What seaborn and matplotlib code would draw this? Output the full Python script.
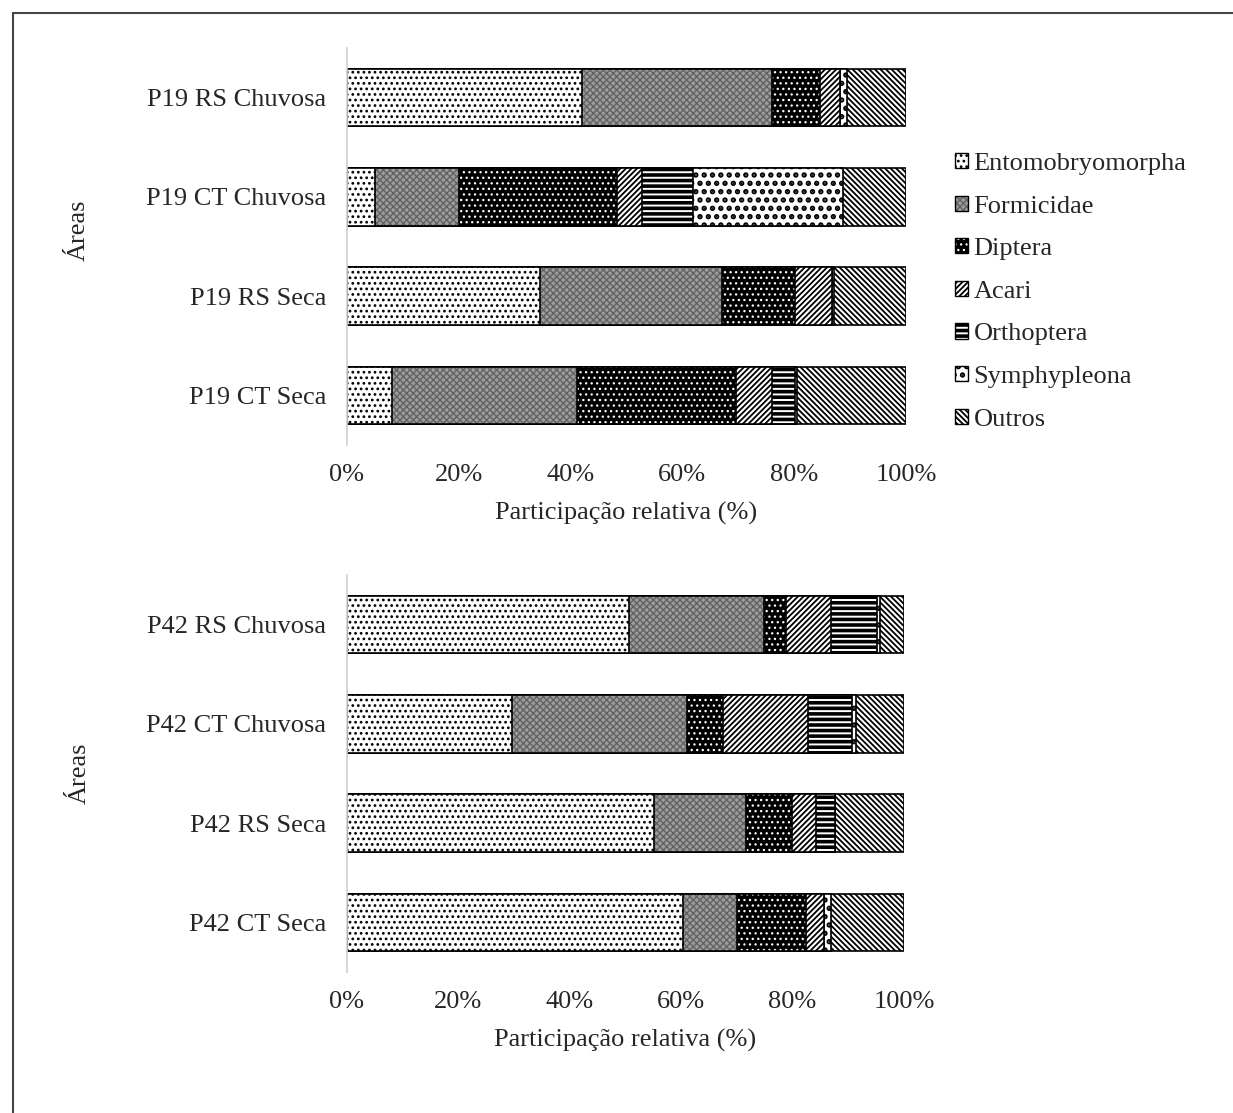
import numpy as np
import pandas as pd
import seaborn as sns
import matplotlib.pyplot as plt
import matplotlib.patches as mpatches
from matplotlib.lines import Line2D

#----------------------------------------------------------
# Data (relative share, %)
#----------------------------------------------------------
taxa = ["Entomobryomorpha", "Formicidae", "Diptera", "Acari",
        "Orthoptera", "Symphypleona", "Outros"]

areas_p19 = ["P19 RS Chuvosa", "P19 CT Chuvosa", "P19 RS Seca", "P19 CT Seca"]
areas_p42 = ["P42 RS Chuvosa", "P42 CT Chuvosa", "P42 RS Seca", "P42 CT Seca"]

# one list per area, values in the order of taxa
p19_rs_chuvosa = [42.0, 34.0, 8.6, 3.6, 0.0, 1.3, 10.5]
p19_ct_chuvosa = [5.0, 15.0, 28.3, 4.5, 9.1, 26.8, 11.3]
p19_rs_seca = [34.5, 32.5, 13.1, 6.7, 0.0, 0.4, 12.8]
p19_ct_seca = [8.1, 33.1, 28.3, 6.5, 4.1, 0.4, 19.5]

p42_rs_chuvosa = [50.6, 24.2, 4.1, 8.0, 8.2, 0.6, 4.3]
p42_ct_chuvosa = [29.6, 31.4, 6.6, 15.1, 7.9, 0.8, 8.6]
p42_rs_seca = [55.1, 16.5, 8.3, 4.4, 3.3, 0.0, 12.4]
p42_ct_seca = [60.3, 9.7, 12.5, 3.1, 0.0, 1.3, 13.1]

xticks = [0, 20, 40, 60, 80, 100]
xticklabels = ["0%", "20%", "40%", "60%", "80%", "100%"]

# face colour, hatch, hatch colour, hatch width for every taxon
styles = {
    "Entomobryomorpha": ("white", "...", "black", 1.2),
    "Formicidae": ("#9c9c9c", "xxxxx", "#626262", 1.0),
    "Diptera": ("black", "...", "white", 0.9),
    "Acari": ("white", "//////", "black", 1.3),
    "Orthoptera": ("white", "---", "black", 2.6),
    "Symphypleona": ("white", "..", "black", 2.6),
    "Outros": ("white", "\\\\\\\\\\\\", "black", 1.3),
}


def style_patch(patch, taxon, lw):
    face, hatch, hcol, hlw = styles[taxon]
    patch.set_facecolor(face)
    patch.set_edgecolor("black")
    patch.set_linewidth(lw)
    patch.set_hatch(hatch)
    if hasattr(patch, "set_hatchcolor"):
        patch.set_hatchcolor(hcol)
    else:
        patch._hatch_color = plt.matplotlib.colors.to_rgba(hcol)
    if hasattr(patch, "set_hatch_linewidth"):
        patch.set_hatch_linewidth(hlw)
    else:
        patch._hatch_linewidth = hlw


def stacked_panel(ax, areas, rows):
    df = pd.DataFrame(rows, index=areas, columns=taxa)
    cum = df.cumsum(axis=1)
    # draw from the outermost layer inwards so each bar covers the previous one
    for taxon in reversed(taxa):
        face = styles[taxon][0]
        n_before = len(ax.patches)
        sns.barplot(x=cum[taxon].values, y=areas, orient="h", color=face,
                    saturation=1, width=0.58, errorbar=None, ax=ax)
        for p in ax.patches[n_before:]:
            style_patch(p, taxon, 1.2)

    ax.set_xlim(0, 100)
    ax.set_xticks(xticks)
    ax.set_xticklabels(xticklabels)
    ax.tick_params(axis="x", length=0, pad=14)
    ax.tick_params(axis="y", length=0, pad=15)
    for side in ["top", "right", "bottom"]:
        ax.spines[side].set_visible(False)
    ax.spines["left"].set_color("#d0d0d0")
    ax.spines["left"].set_linewidth(1.2)
    ax.set_xlabel("Participação relativa (%)", labelpad=11)
    ax.set_ylabel("Áreas")
    ax.yaxis.set_label_coords(-0.46, 0.5)


def main():
    sns.set_style("white")
    plt.rcParams["font.family"] = ["Liberation Serif", "DejaVu Serif"]
    plt.rcParams["font.size"] = 19

    fig = plt.figure(figsize=(12.33, 11.13), dpi=100)
    ax1 = fig.add_axes([0.2814, 0.6002, 0.4534, 0.3567])
    ax2 = fig.add_axes([0.2814, 0.1267, 0.4517, 0.3567])

    stacked_panel(ax1, areas_p19,
                  [p19_rs_chuvosa, p19_ct_chuvosa, p19_rs_seca, p19_ct_seca])
    stacked_panel(ax2, areas_p42,
                  [p42_rs_chuvosa, p42_ct_chuvosa, p42_rs_seca, p42_ct_seca])
    ax1.yaxis.set_label_coords(-0.46, 0.54)

    handles = [mpatches.Patch(label=taxon) for taxon in taxa]
    leg = fig.legend(handles=handles, loc="upper left",
                     bbox_to_anchor=(0.766, 0.872), frameon=False,
                     handlelength=0.5, handleheight=0.5, handletextpad=0.2,
                     labelspacing=0.78, borderaxespad=0, fontsize=19)
    for h, taxon in zip(leg.legend_handles, taxa):
        style_patch(h, taxon, 1.0)

    # frame lines on the top and the left of the picture
    fig.add_artist(Line2D([0.0105, 0.0105], [0.0, 0.988], color="#444444",
                          linewidth=1.5, transform=fig.transFigure))
    fig.add_artist(Line2D([0.0105, 1.0], [0.988, 0.988], color="#444444",
                          linewidth=1.5, transform=fig.transFigure))

    fig.savefig("out.png", dpi=100)


if __name__ == "__main__":
    main()
